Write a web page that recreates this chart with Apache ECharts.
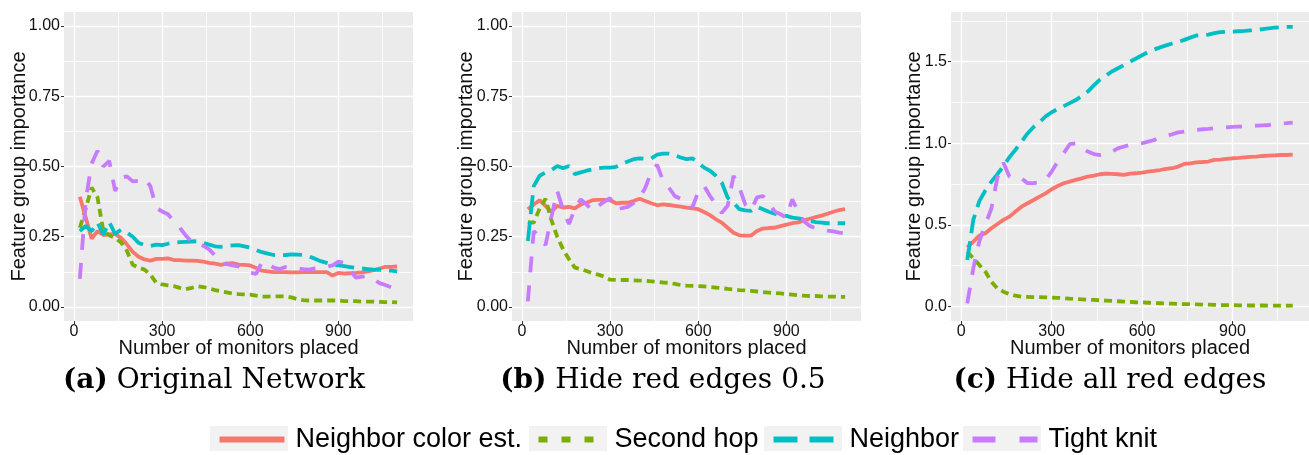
<!DOCTYPE html>
<html>
<head>
<meta charset="utf-8">
<title>Feature group importance</title>
<script src="https://cdn.jsdelivr.net/npm/echarts@6.0.0/dist/echarts.min.js"></script>
<style>
html, body { margin: 0; padding: 0; background: #fff; }
#chartContainer { width: 1309px; height: 455px; }
</style>
</head>
<body>
<div id="chartContainer"></div>
<script>
// number of monitors placed (x of every point)
var monitors = [20, 40, 60, 80, 100, 120, 140, 160, 180, 200, 220, 240, 260, 280, 300, 320, 340, 360, 380, 400,
	420, 440, 460, 480, 500, 520, 540, 560, 580, 600, 620, 640, 660, 680, 700, 720, 740, 760, 780, 800,
	820, 840, 860, 880, 900, 920, 940, 960, 980, 1000, 1020, 1040, 1060, 1080, 1100];

// (a) Original Network
var colorEstA = [0.392, 0.318, 0.243, 0.27, 0.256, 0.258, 0.26, 0.246, 0.223, 0.196, 0.179, 0.169, 0.165, 0.171, 0.171, 0.173, 0.167, 0.167, 0.165, 0.165,
	0.164, 0.161, 0.157, 0.154, 0.15, 0.154, 0.156, 0.151, 0.15, 0.148, 0.139, 0.129, 0.127, 0.124, 0.124, 0.124, 0.123, 0.123, 0.124, 0.124,
	0.124, 0.124, 0.124, 0.112, 0.121, 0.119, 0.12, 0.121, 0.123, 0.127, 0.131, 0.137, 0.143, 0.143, 0.144];
var secondHopA = [0.282, 0.35, 0.425, 0.39, 0.27, 0.255, 0.245, 0.23, 0.2, 0.15, 0.14, 0.133, 0.115, 0.086, 0.08, 0.077, 0.074, 0.068, 0.063, 0.068,
	0.074, 0.071, 0.066, 0.06, 0.056, 0.052, 0.048, 0.046, 0.045, 0.044, 0.04, 0.037, 0.037, 0.038, 0.038, 0.037, 0.034, 0.028, 0.024, 0.023,
	0.023, 0.023, 0.023, 0.023, 0.023, 0.021, 0.021, 0.021, 0.019, 0.019, 0.019, 0.018, 0.017, 0.017, 0.016];
var neighborA = [0.27, 0.288, 0.27, 0.3, 0.258, 0.302, 0.26, 0.275, 0.265, 0.25, 0.228, 0.22, 0.217, 0.222, 0.22, 0.225, 0.229, 0.231, 0.232, 0.233,
	0.234, 0.228, 0.222, 0.216, 0.214, 0.216, 0.219, 0.22, 0.216, 0.211, 0.203, 0.195, 0.19, 0.185, 0.184, 0.185, 0.187, 0.186, 0.185, 0.18,
	0.172, 0.163, 0.157, 0.15, 0.148, 0.145, 0.142, 0.139, 0.137, 0.135, 0.133, 0.132, 0.131, 0.129, 0.127];
var tightKnitA = [0.10, 0.38, 0.51, 0.556, 0.50, 0.52, 0.413, 0.46, 0.465, 0.447, 0.449, 0.458, 0.43, 0.352, 0.34, 0.33, 0.305, 0.283, 0.255, 0.233,
	0.229, 0.218, 0.205, 0.183, 0.163, 0.152, 0.148, 0.144, 0.13, 0.122, 0.118, 0.16, 0.155, 0.14, 0.135, 0.142, 0.14, 0.138, 0.135, 0.133,
	0.137, 0.14, 0.143, 0.148, 0.161, 0.157, 0.13, 0.104, 0.108, 0.11, 0.099, 0.085, 0.078, 0.07, 0.065];

// (b) Hide red edges 0.5
var colorEstB = [0.348, 0.365, 0.38, 0.36, 0.339, 0.36, 0.354, 0.356, 0.351, 0.365, 0.371, 0.38, 0.381, 0.381, 0.38, 0.369, 0.371, 0.371, 0.377, 0.385,
	0.377, 0.369, 0.362, 0.365, 0.363, 0.36, 0.357, 0.354, 0.351, 0.348, 0.338, 0.327, 0.312, 0.3, 0.282, 0.264, 0.255, 0.254, 0.254, 0.27,
	0.279, 0.281, 0.282, 0.288, 0.293, 0.298, 0.301, 0.308, 0.314, 0.32, 0.325, 0.332, 0.339, 0.345, 0.348];
var secondHopB = [0.302, 0.30, 0.35, 0.385, 0.31, 0.25, 0.205, 0.17, 0.14, 0.135, 0.128, 0.12, 0.115, 0.108, 0.097, 0.096, 0.096, 0.096, 0.095, 0.094,
	0.093, 0.091, 0.089, 0.087, 0.086, 0.082, 0.078, 0.076, 0.075, 0.074, 0.073, 0.071, 0.069, 0.067, 0.064, 0.062, 0.06, 0.059, 0.057, 0.055,
	0.053, 0.051, 0.05, 0.048, 0.046, 0.044, 0.042, 0.04, 0.039, 0.039, 0.038, 0.037, 0.037, 0.036, 0.036];
var neighborB = [0.235, 0.43, 0.467, 0.479, 0.487, 0.502, 0.494, 0.502, 0.473, 0.479, 0.485, 0.49, 0.494, 0.496, 0.496, 0.499, 0.51, 0.518, 0.526, 0.529,
	0.527, 0.529, 0.542, 0.546, 0.546, 0.54, 0.532, 0.526, 0.529, 0.514, 0.496, 0.485, 0.467, 0.443, 0.389, 0.371, 0.348, 0.344, 0.342, 0.356,
	0.348, 0.339, 0.332, 0.327, 0.324, 0.318, 0.315, 0.312, 0.306, 0.302, 0.3, 0.298, 0.298, 0.298, 0.298];
var tightKnitB = [0.02, 0.27, 0.25, 0.22, 0.32, 0.413, 0.345, 0.295, 0.35, 0.383, 0.365, 0.342, 0.36, 0.375, 0.387, 0.35, 0.352, 0.356, 0.37, 0.387,
	0.425, 0.48, 0.506, 0.45, 0.425, 0.395, 0.385, 0.377, 0.354, 0.41, 0.431, 0.395, 0.365, 0.335, 0.36, 0.467, 0.425, 0.365, 0.345, 0.39,
	0.395, 0.37, 0.34, 0.33, 0.318, 0.383, 0.34, 0.305, 0.288, 0.28, 0.276, 0.272, 0.269, 0.265, 0.262];

// (c) Hide all red edges
var colorEstC = [0.362, 0.397, 0.434, 0.448, 0.479, 0.505, 0.53, 0.55, 0.581, 0.611, 0.632, 0.652, 0.673, 0.693, 0.718, 0.738, 0.755, 0.765, 0.775, 0.785,
	0.796, 0.802, 0.81, 0.814, 0.812, 0.81, 0.806, 0.814, 0.816, 0.82, 0.826, 0.83, 0.836, 0.843, 0.847, 0.857, 0.873, 0.877, 0.883, 0.885,
	0.888, 0.898, 0.9, 0.904, 0.908, 0.91, 0.914, 0.916, 0.918, 0.922, 0.924, 0.926, 0.928, 0.928, 0.93];
var secondHopC = [0.335, 0.294, 0.254, 0.213, 0.151, 0.11, 0.09, 0.074, 0.065, 0.059, 0.058, 0.057, 0.056, 0.055, 0.054, 0.052, 0.05, 0.047, 0.045, 0.043,
	0.041, 0.039, 0.037, 0.035, 0.033, 0.031, 0.029, 0.027, 0.025, 0.024, 0.022, 0.02, 0.019, 0.017, 0.016, 0.015, 0.014, 0.013, 0.012, 0.011,
	0.01, 0.009, 0.008, 0.007, 0.007, 0.006, 0.006, 0.005, 0.005, 0.005, 0.004, 0.004, 0.004, 0.004, 0.004];
var neighborC = [0.284, 0.53, 0.645, 0.71, 0.765, 0.81, 0.86, 0.915, 0.96, 1.01, 1.06, 1.1, 1.13, 1.165, 1.19, 1.21, 1.228, 1.246, 1.265, 1.29,
	1.317, 1.355, 1.39, 1.415, 1.44, 1.46, 1.48, 1.5, 1.52, 1.54, 1.56, 1.575, 1.588, 1.6, 1.612, 1.622, 1.634, 1.648, 1.661, 1.663,
	1.666, 1.675, 1.681, 1.683, 1.685, 1.687, 1.689, 1.692, 1.695, 1.7, 1.705, 1.709, 1.712, 1.714, 1.714];
var tightKnitC = [0.018, 0.233, 0.40, 0.5, 0.6, 0.79, 0.88, 0.795, 0.789, 0.785, 0.755, 0.755, 0.761, 0.775, 0.826, 0.888, 0.939, 0.994, 1.0, 0.969,
	0.949, 0.934, 0.928, 0.933, 0.949, 0.969, 0.98, 0.99, 0.994, 1.0, 1.01, 1.02, 1.037, 1.047, 1.055, 1.067, 1.072, 1.078, 1.082, 1.086,
	1.088, 1.092, 1.096, 1.098, 1.1, 1.102, 1.102, 1.106, 1.108, 1.11, 1.112, 1.117, 1.121, 1.123, 1.127];

// ticks
var xTicks = [0, 300, 600, 900];
var xMinorTicks = [150, 450, 750, 1050];
var yTicksAB = [0, 0.25, 0.5, 0.75, 1];
var yMinorTicksAB = [0.125, 0.375, 0.625, 0.875];
var yTicksC = [0, 0.5, 1, 1.5];
var yMinorTicksC = [0.25, 0.75, 1.25, 1.75];

var seriesNames = ['Neighbor color est.', 'Second hop', 'Neighbor', 'Tight knit'];
var captions = ['(a)', '(b)', '(c)'];
var captionTexts = ['Original Network', 'Hide red edges 0.5', 'Hide all red edges'];

var featureImportanceChart = {
	colors : ['#F8766D', '#7CAE00', '#00BFC4', '#C77CFF'],
	dashes : ['solid', [8, 5], [19, 8], [16, 13]],
	legendDashes : ['solid', [9, 14], [24, 12], [23, 24]],
	font : 'Liberation Sans',

	/**
	 * x axes of one panel (major + minor grid lines)
	 */
	xAxes : function(gridIndex) {
		var me = featureImportanceChart;
		return [
			{
				type: 'value', gridIndex: gridIndex, min: -34, max: 1154, position: 'bottom',
				axisLine: {show: false, onZero: false},
				axisTick: {show: true, length: 3, customValues: xTicks, lineStyle: {color: '#333', width: 1}},
				axisLabel: {customValues: xTicks, margin: 3, fontSize: 16, color: '#111', fontFamily: me.font},
				splitLine: {show: true, lineStyle: {color: '#fff', width: 1.4}},
				name: 'Number of monitors placed', nameLocation: 'middle', nameGap: 17, nameMoveOverlap: false,
				nameTextStyle: {fontSize: 20, color: '#111', fontFamily: me.font}
			},
			{
				type: 'value', gridIndex: gridIndex, min: -34, max: 1154, position: 'top',
				axisLine: {show: false, onZero: false},
				axisTick: {show: false, customValues: xMinorTicks},
				axisLabel: {show: false},
				splitLine: {show: true, lineStyle: {color: '#fff', width: 0.8}}
			}
		];
	},

	/**
	 * y axes of one panel (major + minor grid lines)
	 */
	yAxes : function(gridIndex, min, max, ticks, minorTicks, digits, nameGap) {
		var me = featureImportanceChart;
		return [
			{
				type: 'value', gridIndex: gridIndex, min: min, max: max, position: 'left',
				axisLine: {show: false, onZero: false},
				axisTick: {show: true, length: 3, customValues: ticks, lineStyle: {color: '#333', width: 1}},
				axisLabel: {
					customValues: ticks, margin: 4, fontSize: 16, color: '#111', fontFamily: me.font,
					formatter: function(v) { return Number(v).toFixed(digits); }
				},
				splitLine: {show: true, lineStyle: {color: '#fff', width: 1.4}},
				name: 'Feature group importance', nameLocation: 'middle', nameGap: nameGap, nameMoveOverlap: false,
				nameTextStyle: {fontSize: 20, color: '#111', fontFamily: me.font}
			},
			{
				type: 'value', gridIndex: gridIndex, min: min, max: max, position: 'right',
				axisLine: {show: false, onZero: false},
				axisTick: {show: false, customValues: minorTicks},
				axisLabel: {show: false},
				splitLine: {show: true, lineStyle: {color: '#fff', width: 0.8}}
			}
		];
	},

	showChart : function() {
		var me = featureImportanceChart;
		var myChart = echarts.init(document.getElementById('chartContainer'), null, {renderer: 'canvas'});

		var grids = [
			{left: 64, top: 12, width: 349, height: 309},
			{left: 512, top: 12, width: 349, height: 309},
			{left: 951, top: 12, width: 358, height: 309}
		];
		var panelData = [
			[colorEstA, secondHopA, neighborA, tightKnitA],
			[colorEstB, secondHopB, neighborB, tightKnitB],
			[colorEstC, secondHopC, neighborC, tightKnitC]
		];
		var nameGaps = [35, 36, 27];

		var xAxis = [], yAxis = [], series = [];
		for (var p = 0; p < 3; p++) {
			grids[p].show = true;
			grids[p].backgroundColor = '#ebebeb';
			grids[p].borderWidth = 0;
			grids[p].outerBoundsMode = 'none';
			xAxis = xAxis.concat(me.xAxes(p));
			if (p < 2) {
				yAxis = yAxis.concat(me.yAxes(p, -0.05, 1.05, yTicksAB, yMinorTicksAB, 2, nameGaps[p]));
			} else {
				yAxis = yAxis.concat(me.yAxes(p, -0.09, 1.805, yTicksC, yMinorTicksC, 1, nameGaps[p]));
			}
			for (var s = 0; s < 4; s++) {
				var values = panelData[p][s];
				series.push({
					name: seriesNames[s],
					type: 'line',
					xAxisIndex: p * 2,
					yAxisIndex: p * 2,
					symbol: 'none',
					color: me.colors[s],
					lineStyle: {color: me.colors[s], width: 3.8, type: me.dashes[s], cap: 'butt'},
					data: monitors.map(function(m, i) { return [m, values[i]]; }),
					animation: false
				});
			}
		}

		// legend, one component per key so that every key sits where it should
		var keyLeft = [210, 529, 764, 963];
		var legend = [], graphic = [];
		for (var k = 0; k < 4; k++) {
			graphic.push({
				type: 'rect', z: 0,
				shape: {x: keyLeft[k], y: 426, width: 78, height: 25},
				style: {fill: '#f2f2f2'}
			});
			legend.push({
				data: [seriesNames[k]],
				left: keyLeft[k] + 6.5,
				top: 426,
				padding: 0,
				itemWidth: 65,
				itemHeight: 25,
				selectedMode: false,
				itemStyle: {opacity: 0, borderWidth: 0},
				lineStyle: {width: 6, type: me.legendDashes[k], cap: 'butt'},
				textStyle: {fontSize: 27, color: '#000', fontFamily: me.font, padding: [0, 0, 0, 6]}
			});
		}

		// captions under the panels
		var captionX = [214, 663, 1110];
		for (var c = 0; c < 3; c++) {
			graphic.push({
				type: 'text',
				x: captionX[c],
				y: 381,
				style: {
					text: '{b|' + captions[c] + '} {r|' + captionTexts[c] + '}',
					align: 'center',
					verticalAlign: 'middle',
					rich: {
						b: {fontFamily: 'DejaVu Serif', fontSize: 28, fontWeight: 'bold', fill: '#000'},
						r: {fontFamily: 'DejaVu Serif', fontSize: 28, fill: '#000'}
					},
					fontFamily: 'DejaVu Serif',
					fontSize: 28,
					fill: '#000'
				}
			});
		}

		var option = {
			backgroundColor: '#fff',
			animation: false,
			grid: grids,
			xAxis: xAxis,
			yAxis: yAxis,
			legend: legend,
			graphic: graphic,
			series: series
		};
		myChart.setOption(option);
	}
};

featureImportanceChart.showChart();
</script>
</body>
</html>
